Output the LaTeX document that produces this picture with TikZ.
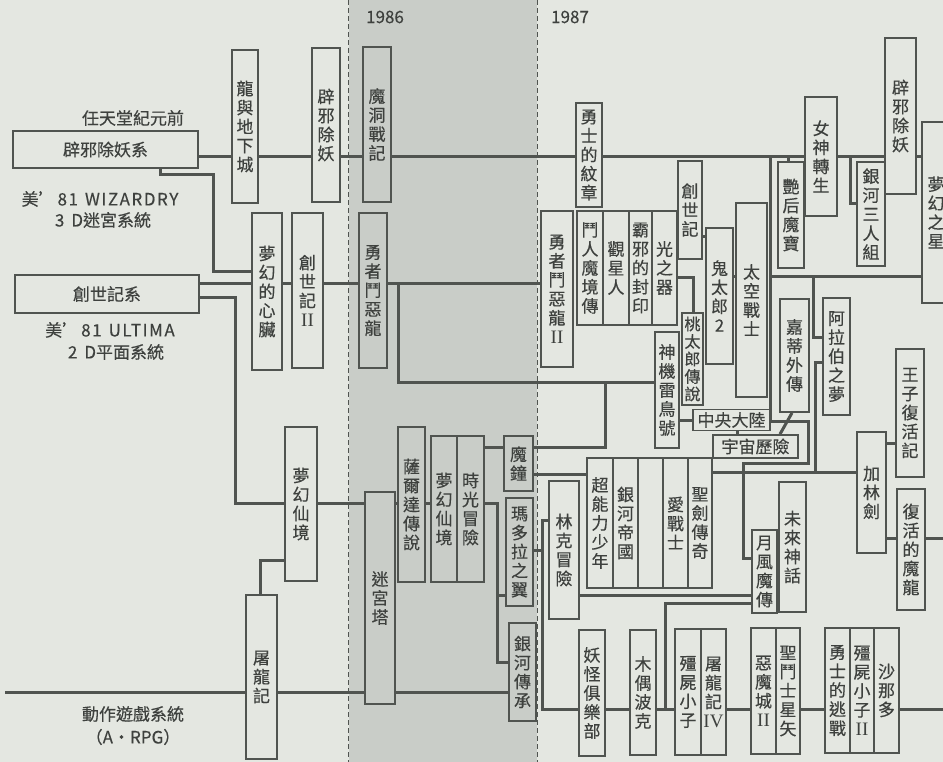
\documentclass[tikz,border=0pt]{standalone}
\usepackage{fontspec}
\setmainfont{Noto Sans CJK TC}[FakeBold=0.35]
\newfontfamily\romanfont{Liberation Serif}
\usetikzlibrary{calc}

\definecolor{bgc}{RGB}{228,231,225}
\definecolor{bandc}{RGB}{201,205,200}
\definecolor{linec}{RGB}{80,84,80}
\definecolor{textc}{RGB}{62,65,62}

\pgfdeclarelayer{back}
\pgfdeclarelayer{wires}
\pgfsetlayers{back,wires,main}

\newcommand{\rnum}[1]{{\romanfont\fontsize{19}{19}\selectfont #1}}
\newcommand{\wide}[1]{{\addfontfeature{LetterSpace=9}#1}}

\begin{document}
\begin{tikzpicture}[x=1pt, y=-1pt,
    gbox/.style={draw=linec, line width=1.7pt, fill=bgc, inner sep=0pt, align=center,
                 text=textc, font=\fontsize{17}{19}\selectfont},
    bbox/.style={gbox, fill=bandc},
    link/.style={draw=linec, line width=3pt},
    note/.style={text=textc, inner sep=0pt, font=\fontsize{17}{19}\selectfont},
    yearline/.style={draw=linec, line width=0.8pt, dash pattern=on 5pt off 3pt}]

    \useasboundingbox (0,0) rectangle (943,762);

    % 底色與 1986 年帶
    \begin{pgfonlayer}{back}
        \fill[bgc] (0,0) rectangle (943,762);
        \fill[bandc] (349,0) rectangle (537,762);
        \draw[yearline] (348,0) -- (348,762);
        \draw[yearline] (537,0) -- (537,762);
    \end{pgfonlayer}

    % 1. 左側系統說明
    \node[note] (ntd)  at (133,118) {任天堂紀元前};
    \node[note] (wiz)  at (100,199) {美’\hspace{2pt}\wide{81}\hspace{7pt}\wide{WIZARDRY}};
    \node[note] (wiz2) at (103,220) {3\hspace{7pt}D迷宮系統};
    \node[note] (ult)  at (110,330) {美’\hspace{2pt}\wide{81}\hspace{7pt}\wide{ULTIMA}};
    \node[note] (ult2) at (116,352) {2\hspace{7pt}D平面系統};
    \node[note] (act)  at (133,714) {動作遊戲系統};
    \node[note] (act2) at (133,737) {（A・RPG）};
    \node[note] (y86)  at (385,17)  {1986};
    \node[note] (y87)  at (570,17)  {1987};

    \node[gbox, minimum width=185, minimum height=37] (bxsys) at (105.5,149.5) {辟邪除妖系};
    \node[gbox, minimum width=184, minimum height=38] (cssys) at (107,294) {創世記系};

    % 2. 1986 以前
    \node[gbox, minimum width=26, minimum height=153] (ldd) at (245,126.5) {龍\\與\\地\\下\\城};
    \node[gbox, minimum width=28, minimum height=154] (bx1) at (326,125) {辟\\邪\\除\\妖};
    \node[gbox, minimum width=30, minimum height=157] (hod) at (267,291.5) {夢\\幻\\的\\心\\臟};
    \node[gbox, minimum width=31, minimum height=155] (cs2) at (307.5,290.5) {創\\世\\記\\\rnum{II}};
    \node[gbox, minimum width=32, minimum height=154] (mx1) at (301,504) {夢\\幻\\仙\\境};
    \node[gbox, minimum width=31, minimum height=164] (tlj) at (261.5,677) {屠\\龍\\記};

    % 3. 1986
    \node[bbox, minimum width=28, minimum height=155] (mdz) at (377,124.5) {魔\\洞\\戰\\記};
    \node[bbox, minimum width=28, minimum height=155] (dq)  at (373,290.5) {勇\\者\\鬥\\惡\\龍};
    \node[bbox, minimum width=30, minimum height=212] (mgt) at (380,598) {迷\\宮\\塔};
    \node[bbox, minimum width=27, minimum height=155] (zld) at (411.5,504.5) {薩\\爾\\達\\傳\\說};
    \node[bbox, minimum width=26, minimum height=146] (mx2) at (444,509) {夢\\幻\\仙\\境};
    \node[bbox, minimum width=27, minimum height=146] (sgm) at (470.5,509) {時\\光\\冒\\險};
    \node[bbox, minimum width=29, minimum height=55]  (mzh) at (518.5,463.5) {魔\\鐘};
    \node[bbox, minimum width=27, minimum height=108] (mdl) at (519.5,552) {瑪\\多\\拉\\之\\翼};
    \node[bbox, minimum width=27, minimum height=98]  (yhc) at (522.5,672) {銀\\河\\傳\\承};

    % 4. 1987 以後
    \node[gbox, minimum width=26, minimum height=104] (yszw) at (589,155) {勇\\士\\的\\紋\\章};
    \node[gbox, minimum width=32, minimum height=156] (dq2)  at (557,289) {勇\\者\\鬥\\惡\\龍\\\rnum{II}};
    \node[gbox, minimum width=26, minimum height=114] (drm)  at (590,268) {鬥\\人\\魔\\境\\傳};
    \node[gbox, minimum width=26, minimum height=114] (gxr)  at (616,268) {觀\\星\\人};
    \node[gbox, minimum width=23, minimum height=114] (bxfy) at (640.5,268) {霸\\邪\\的\\封\\印};
    \node[gbox, minimum width=25, minimum height=114] (gzq)  at (664.5,268) {光\\之\\器};
    \node[gbox, minimum width=24, minimum height=98]  (cs3)  at (690,210) {創\\世\\記};
    \node[gbox, minimum width=27, minimum height=136] (gtl)  at (719.5,296) {鬼\\太\\郎\\2};
    \node[gbox, minimum width=31, minimum height=194] (ff)   at (751.5,300) {太\\空\\戰\\士};
    \node[gbox, minimum width=21, minimum height=92, font=\fontsize{16}{17.5}\selectfont] (tdl) at (692.5,359) {桃\\太\\郎\\傳\\說};
    \node[gbox, minimum width=24, minimum height=116] (sjl)  at (667,390) {神\\機\\雷\\鳥\\號};
    \node[gbox, minimum width=77, minimum height=21]  (zydl) at (731.5,420) {中央大陸};
    \node[gbox, minimum width=85, minimum height=23]  (yzl)  at (755.5,446.5) {宇宙歷險};
    \node[gbox, minimum width=26, minimum height=106] (yhm)  at (791,215) {艷\\后\\魔\\寶};
    \node[gbox, minimum width=32, minimum height=119] (nszs) at (821,156.5) {女\\神\\轉\\生};
    \node[gbox, minimum width=28, minimum height=104] (yhsr) at (871,214) {銀\\河\\三\\人\\組};
    \node[gbox, minimum width=31, minimum height=156] (bx2)  at (900.5,116) {辟\\邪\\除\\妖};
    \node[gbox, minimum width=28, minimum height=181] (mhzx) at (936,212.5) {夢\\幻\\之\\星};
    \node[gbox, minimum width=29, minimum height=113] (jdwz) at (794.5,355.5) {嘉\\蒂\\外\\傳};
    \node[gbox, minimum width=27, minimum height=117] (alb)  at (836.5,356.5) {阿\\拉\\伯\\之\\夢};

    \node[gbox, minimum width=26, minimum height=130] (cnl)  at (600,523) {超\\能\\力\\少\\年};
    \node[gbox, minimum width=25, minimum height=130] (yhdg) at (625.5,523) {銀\\河\\帝\\國};
    \node[gbox, minimum width=25, minimum height=130] (emp)  at (650.5,523) {};
    \node[gbox, minimum width=25, minimum height=130] (azs)  at (675.5,523) {愛\\戰\\士};
    \node[gbox, minimum width=24, minimum height=130] (sjcq) at (700,523) {聖\\劍\\傳\\奇};
    \node[gbox, minimum width=30, minimum height=138] (lkmx) at (564,550) {林\\克\\冒\\險};
    \node[gbox, minimum width=29, minimum height=121] (ylj)  at (871.5,492.5) {加\\林\\劍};
    \node[gbox, minimum width=28, minimum height=128] (wzfh) at (910,413) {王\\子\\復\\活\\記};
    \node[gbox, minimum width=28, minimum height=121] (fhml) at (911,549.5) {復\\活\\的\\魔\\龍};
    \node[gbox, minimum width=27, minimum height=130] (wlsh) at (792.5,547) {未\\來\\神\\話};
    \node[gbox, minimum width=25, minimum height=83]  (yfm)  at (764.5,571.5) {月\\風\\魔\\傳};

    \node[gbox, minimum width=26, minimum height=126] (ygjl)  at (592,693) {妖\\怪\\俱\\樂\\部};
    \node[gbox, minimum width=26, minimum height=125] (moubk) at (643,692.5) {木\\偶\\波\\克};
    \node[gbox, minimum width=26, minimum height=126] (jsxz)  at (688,692) {殭\\屍\\小\\子};
    \node[gbox, minimum width=25, minimum height=126] (tlj4)  at (713.5,692) {屠\\龍\\記\\\rnum{IV}};
    \node[gbox, minimum width=25, minimum height=126] (emc2)  at (763.5,691) {惡\\魔\\城\\\rnum{II}};
    \node[gbox, minimum width=24, minimum height=126] (sdsx)  at (788,691) {聖\\鬥\\士\\星\\矢};
    \node[gbox, minimum width=25, minimum height=125] (ystz)  at (837.5,690.5) {勇\\士\\的\\逃\\戰};
    \node[gbox, minimum width=24, minimum height=125] (jsxz2) at (862,690.5) {殭\\屍\\小\\子\\\rnum{II}};
    \node[gbox, minimum width=25, minimum height=125] (snd)   at (886.5,690.5) {沙\\那\\多};

    \coordinate (abot) at (5,692);
    \coordinate (ebot) at (943,709);
    \coordinate (emid) at (943,538);

    % 5. 連線
    \begin{pgfonlayer}{wires}
        % 辟邪除妖系主線
        \draw[link] (bxsys.east |- 0,157) -- (mhzx.west |- 0,157);
        \draw[link] (bxsys.south -| 160,0) |- (213,175) |- (hod.west |- 0,272);
        % 創世記系
        \draw[link] (cssys.east |- 0,284) -- (dq2.west |- 0,284);
        \draw[link] (cssys.east |- 0,298) -| (235,503) -- (sgm.east |- 0,503)
            -| (497,662) -- (yhc.west |- 0,662);
        \draw[link] (497,595) -- (mdl.west |- 0,595);
        \draw[link] (mx1.west |- 0,560) -| (tlj.north -| 260,0);
        % 動作遊戲系統
        \draw[link] (abot) -- (yhc.west |- abot);
        % 勇者鬥惡龍 -> 神機雷鳥號
        \draw[link] (398,284) |- (sjl.west |- 0,382);
        \draw[link] (mzh.east |- 0,447) -| (605,382);
        \draw[link] (sgm.east |- 0,447) -- (mzh.west |- 0,447);
        \draw[link] (mzh.east |- 0,474) -- (cnl.west |- 0,474);
        % 瑪多拉之翼 -> 林克冒險
        \draw[link] (mdl.east |- 0,550) -- (542,550);
        \draw[link] (lkmx.west |- 0,520) -| (542,709) -- (ebot);
        \draw[link] (lkmx.east |- 0,595) -- (yfm.west |- 0,595);
        \draw[link] (yfm.west |- 0,603) -| (665,709);
        % 加林劍
        \draw[link] (sjcq.east |- 0,472) -- (ylj.west |- 0,472);
        \draw[link] (ylj.east |- 0,538) -- (emid);
        \draw[link] (ylj.east |- 0,443) -- (wzfh.west |- 0,443);
        % 右側分支
        \draw[link] (770,157) |- (808,421) |- (743,463) |- (yfm.west |- 0,558);
        \draw[link] (770,277) -- (mhzx.west |- 0,277);
        \draw[link] (813,277) |- (alb.west |- 0,337);
        \draw[link] (alb.west |- 0,362) -| (815,472);
        \draw[link] (jdwz.south -| 792,0) -- (yzl.north -| 780,0);
        \draw[link] (sjl.east |- zydl.west) -- (zydl.west);
        \draw[link] (zydl.south -| 737,0) -- (yzl.north -| 737,0);
        \draw[link] (yhm.north -| 788,0) -- (788,157);
        \draw[link] (850,157) |- (yhsr.west |- 0,204);
        \draw[link] (gzq.east |- 0,237) -- (gtl.west |- 0,237);
        \draw[link] (gtl.east |- 0,277) -- (ff.west |- 0,277);
        \draw[link] (gzq.east |- 0,278) -| (tdl.north -| 693,0);
    \end{pgfonlayer}

\end{tikzpicture}
\end{document}
